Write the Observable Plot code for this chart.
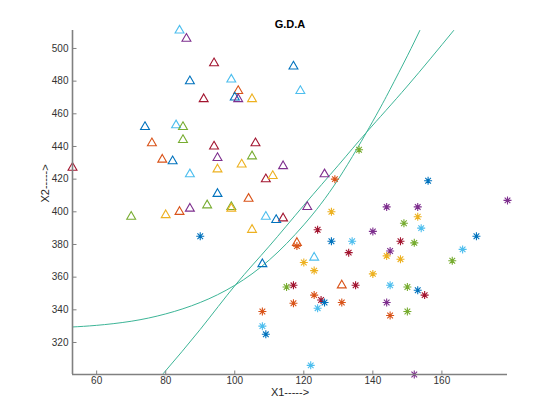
<!DOCTYPE html>
<html><head><meta charset="utf-8">
<script src="https://cdn.jsdelivr.net/npm/d3@7"></script>
<script src="https://cdn.jsdelivr.net/npm/@observablehq/plot@0.6"></script>
<style>body{margin:0;background:#fff}</style>
</head><body><div id="chart"></div>
<script>
// Class 1 (triangles)
const class1X = [84,86,94,87,99,91,117,119,101,100,101,105,74,83,85,85,76,94,106,95,105,79,82,53,95,102,114,87,126,109,111,95,104,92,87,84,80,70,99,99,121,109,114,112,105,118,123,108,131];
const class1Y = [511,506,491,480,481,469,489,474,474,470,469,469,452,453,452,444,442,440,442,433,434,432,431,427,426,429,428,423,423,420,422,411,408,404,402,400,398,397,403,402,403,397,396,395,389,381,372,368,355];
const class1C = ["c","p","r","b","c","r","b","c","o","b","p","y","b","c","g","g","o","r","r","p","g","o","b","r","y","y","p","c","p","r","y","b","o","g","p","o","y","g","g","y","p","c","r","b","y","o","c","b","o"];
// Class 2 (asterisks)
const class2X = [90,136,129,156,179,144,153,128,153,149,154,124,140,128,134,148,152,170,118,166,145,133,144,148,163,120,123,140,115,117,135,145,150,153,155,117,123,125,126,131,144,124,145,150,108,108,109,122,152];
const class2Y = [385,438,420,419,407,403,403,400,397,393,390,389,388,382,382,382,381,385,379,377,376,375,373,371,370,369,364,362,354,355,355,355,354,352,349,344,349,346,344.5,344.5,344.5,341,336.5,339,339,330,325,306,300.4];
const class2C = ["b","g","o","b","p","p","p","y","y","g","c","r","p","b","c","r","g","b","o","c","p","r","y","y","g","y","y","y","g","r","r","c","g","b","r","o","o","r","b","o","p","c","o","g","o","c","b","c","p"];
// Decision boundaries
const boundaryAX = [53,60,70,80,90,100,110,120,130,140,145,150,153.6];
const boundaryAY = [329.5,330.5,333,337.5,344.5,355,370.5,392,420,455.5,475,495.5,511];
const boundaryBX = [79.3,90,100.3,110,120,130,138.3,150,163.4];
const boundaryBY = [301,328,355.5,379,404,428.5,449,477,511];
// Ticks
const xTicks = [60,80,100,120,140,160];
const yTicks = [320,340,360,380,400,420,440,460,480,500];
const colorCodes = ["b","o","y","p","g","c","r"];
const palette = ["#0072BD","#D95319","#EDB120","#7E2F8E","#77AC30","#4DBEEE","#A2142F"];

const class1 = class1X.map((x,i)=>({x, y:class1Y[i], c:class1C[i]}));
const class2 = class2X.map((x,i)=>({x, y:class2Y[i], c:class2C[i]}));
const bA = boundaryAX.map((x,i)=>({x, y:boundaryAY[i]}));
const bB = boundaryBX.map((x,i)=>({x, y:boundaryBY[i]}));
const xDomain = d3.extent([...class1X, ...class2X]);
const yDomain = d3.extent([...class1Y, ...class2Y]);

const asterisk8 = {draw(ctx, size){
  const r = Math.sqrt(size/Math.PI), d = r*Math.SQRT1_2;
  ctx.moveTo(-r,0); ctx.lineTo(r,0); ctx.moveTo(0,-r); ctx.lineTo(0,r);
  ctx.moveTo(-d,-d); ctx.lineTo(d,d); ctx.moveTo(-d,d); ctx.lineTo(d,-d);
}};
const tickUp = {draw(ctx){ ctx.moveTo(0,0); ctx.lineTo(0,-4); }};
const tickRight = {draw(ctx){ ctx.moveTo(0,0); ctx.lineTo(4,0); }};
const axisGray = "#808080";
const curveColor = "#3db597";

const chart = Plot.plot({
  width: 560, height: 420,
  marginLeft: 72, marginRight: 53, marginTop: 30, marginBottom: 46,
  style: {fontFamily: "'Liberation Sans', Arial, sans-serif", fontSize: "10px", color: "#333", background: "#fff"},
  x: {domain: xDomain},
  y: {domain: yDomain},
  color: {type: "ordinal", domain: colorCodes, range: palette},
  marks: [
    Plot.line(bA, {x: "x", y: "y", curve: "natural", stroke: curveColor, strokeWidth: 1, clip: true}),
    Plot.line(bB, {x: "x", y: "y", curve: "natural", stroke: curveColor, strokeWidth: 1, clip: true}),
    Plot.dot(class1, {x: "x", y: "y", stroke: "c", symbol: "triangle", r: 3.3, fill: "none", strokeWidth: 1.1}),
    Plot.dot(class2, {x: "x", y: "y", stroke: "c", symbol: asterisk8, r: 4, fill: "none", strokeWidth: 1.1}),
    Plot.ruleX([xDomain[0]], {stroke: axisGray, strokeWidth: 1.6}),
    Plot.ruleY([yDomain[0]], {stroke: axisGray, strokeWidth: 1.6}),
    Plot.dot(xTicks, {x: d=>d, y: () => yDomain[0], symbol: tickUp, stroke: axisGray, fill: "none", strokeWidth: 1}),
    Plot.dot(yTicks, {x: () => xDomain[0], y: d=>d, symbol: tickRight, stroke: axisGray, fill: "none", strokeWidth: 1}),
    Plot.axisX(xTicks, {tickSize: 0, tickPadding: 2, label: null, fontSize: 10}),
    Plot.axisY(yTicks, {tickSize: 0, tickPadding: 4, label: null, fontSize: 10}),
    Plot.text(["G.D.A"], {text: d=>d, frameAnchor: "top", dy: -10, fontWeight: "bold", fontSize: 11, fill: "#000"}),
    Plot.text(["X1----->"], {text: d=>d, frameAnchor: "bottom", dy: 21, fontSize: 11, fill: "#262626"}),
    Plot.text(["X2----->"], {text: d=>d, frameAnchor: "left", dx: -27, rotate: -90, fontSize: 11, fill: "#262626"})
  ]
});
document.getElementById("chart").appendChild(chart);
</script>
</body></html>
